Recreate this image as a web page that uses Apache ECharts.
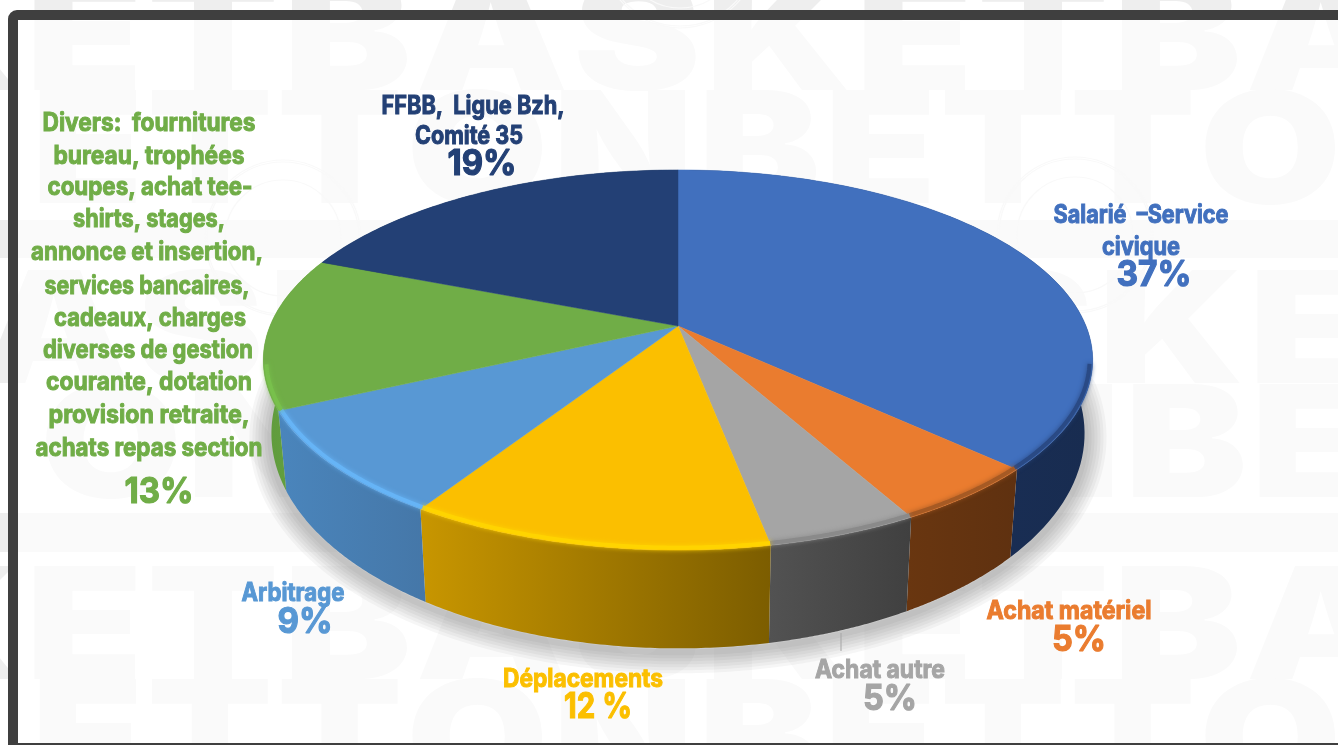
<!DOCTYPE html>
<html><head><meta charset="utf-8">
<style>html,body{margin:0;padding:0;background:#fff}#c{width:1338px;height:745px}</style>
<script src="https://cdn.jsdelivr.net/npm/echarts@6/dist/echarts.min.js"></script>
</head><body><div id="c"></div>
<script>
// ---- data ----
const categories = ['Salarié –Service civique','Achat matériel','Achat autre','Déplacements','Arbitrage','Divers','FFBB, Ligue Bzh, Comité 35'];
const values = [37,5,5,12,9,13,19];
const percentLabels = ['37%','5%','5%','12 %','9%','13%','19%'];
const nameLines = [
  ['Salarié  –Service','civique'],
  ['Achat matériel'],
  ['Achat autre'],
  ['Déplacements'],
  ['Arbitrage'],
  ['Divers:  fournitures','bureau, trophées','coupes, achat tee-','shirts, stages,','annonce et insertion,','services bancaires,','cadeaux, charges','diverses de gestion','courante, dotation','provision retraite,','achats repas section'],
  ['FFBB,  Ligue Bzh,','Comité 35']
];
// ---- styles ----
const topColors = ['#4170be','#ea7c2f','#a5a5a5','#fbbf00','#5898d4','#70ad47','#234075'];
const wallColors = [['#1c3260','#182c50'],['#693610','#5f3110'],['#525252','#404040'],['#c89600','#7c5d00'],['#4a85bc','#4577a8'],['#5f9a3c','#68a842'],['#182c50','#182c50']];
const rimColors = ['#2a4a85','#a65a24','#8a8a8a','#ffd400','#66b4f6','#78c04c','#234075'];
// ---- label layout (centre x, row y's and rendered widths) ----
const nameLayout = [
  {x:[1141,1141],y:[215,247],w:[175,78]},
  {x:[1069],y:[611],w:[165]},
  {x:[880],y:[670],w:[130]},
  {x:[583],y:[679],w:[160]},
  {x:[293],y:[593],w:[103]},
  {x:[149,149,150,149,147,147,150,148,149,149,149],y:[123,156,187,219,252,286,318,350,382,415,448],w:[213,191,205,152,232,205,192,210,206,201,227]},
  {x:[473,469],y:[106,136],w:[183,108]}
];
const pctLayout = [
  {x:1154,y:275,w:75},{x:1079,y:640,w:54},{x:890,y:699,w:54},{x:598,y:707,w:68},
  {x:305,y:622,w:55},{x:159,y:492,w:69},{x:482,y:164,w:69}
];
const NAME_FONT = '700 25px Inter';
const PCT_FONT = '700 36px Inter';
// perspective of the pie disc
const G = {cx:678, k:0.179, top:{y:326,b:184,a:408}, rim:{y:326,b:182,a:405}, bot:{y:395,b:208,a:400}, shade:{y:399,b:208,a:401}};
const proj = (theta, L) => {
  const u = Math.sin(theta), v = -Math.cos(theta), d = 1 - G.k*v;
  return [G.cx + L.a*u/d, L.y + L.b*v/d];
};
const total = values.reduce((s,v)=>s+v,0);
const starts = []; values.reduce((s,v,i)=>{starts[i]=s;return s+v;},0);
const arc = (i, L, rev, minV) => {
  const n = 80, out = [];
  const t0 = starts[i]/total*2*Math.PI, t1 = (starts[i]+values[i])/total*2*Math.PI;
  for(let j=0;j<=n;j++){
    const t = t0+(t1-t0)*j/n;
    if(minV===undefined || -Math.cos(t)>minV) out.push(proj(t,L));
  }
  return rev ? out.reverse() : out;
};
const sliceData = values.map((v,i)=>[i,v]);
const grad = c => new echarts.graphic.LinearGradient(0,0,1,0,[{offset:0,color:c[0]},{offset:1,color:c[1]}]);

const chart = echarts.init(document.getElementById('c'),null,{renderer:'canvas'});
// ---- background watermark ----
const mctx = document.createElement('canvas').getContext('2d');
const measure = (t,f)=>{mctx.font=f;return mctx.measureText(t).width;};
const WM_FONT = '900 155px Inter';
const WM = '#eeeeee';
const wmRows = [
  {text:'KETBASKETBASKETB',anchor:3,ax:283,y:43,period:830,word:'BASKET'},
  {text:'ETTONBETTONBETTON',anchor:1,ax:147,y:156,period:793,word:'BETTON'},
  {text:'BASKETBASKETBASKET',anchor:9,ax:1098,y:336,period:830,word:'BASKET'},
  {text:'ONBETTONBETTON',anchor:0,ax:40,y:450,period:793,word:'BETTON'},
  {text:'KETBASKETBASKETB',anchor:3,ax:283,y:632,period:830,word:'BASKET'},
  {text:'ETTONBETTONBETTON',anchor:1,ax:147,y:745,period:793,word:'BETTON'}
];
const bg = [];
wmRows.forEach(r=>{
  const sum = r.word.split('').reduce((s,c)=>s+measure(c,WM_FONT),0);
  const scale = r.period/sum;
  const adv = c => measure(c,WM_FONT)*scale;
  let x = r.ax;
  for(let i=0;i<r.anchor;i++) x -= adv(r.text[i]);
  r.text.split('').forEach(c=>{
    bg.push({type:'text',x:x,y:r.y,scaleX:scale*0.97,z:0,silent:true,
      style:{text:c,font:WM_FONT,fill:WM,align:'left',verticalAlign:'middle'}});
    x += adv(c);
  });
});
[[220,258],[513,552]].forEach(b=>bg.push({type:'rect',z:0,silent:true,shape:{x:0,y:b[0],width:1338,height:b[1]-b[0]},style:{fill:WM}}));
// inner veil and frame
bg.push({type:'rect',z:1,silent:true,shape:{x:13,y:15,width:1400,height:733},style:{fill:'rgba(255,255,255,0.68)'}});
[[283,238],[1075,235],[680,-50]].forEach(c=>{
  [78,76,58].forEach(r=>bg.push({type:'circle',z:1,silent:true,shape:{cx:c[0],cy:c[1],r:r},style:{fill:'none',stroke:'#f9f9f9',lineWidth:1.2}}));
});
bg.push({type:'rect',z:1,silent:true,shape:{x:13,y:15,width:1400,height:733,r:4},style:{fill:'none',stroke:'#3f3f3f',lineWidth:10}});
// ---- text labels ----
const textEl = (t,font,fill,x,y,w,lw)=>({type:'text',x:x,y:y,scaleX:w/measure(t,font),z:10,silent:true,
  style:{text:t,font:font,fill:fill,stroke:fill,lineWidth:lw,align:'center',verticalAlign:'middle'}});
const labels = [];
categories.forEach((c,i)=>{
  nameLines[i].forEach((t,j)=>labels.push(textEl(t,NAME_FONT,topColors[i],nameLayout[i].x[j],nameLayout[i].y[j],nameLayout[i].w[j],1)));
  labels.push(textEl(percentLabels[i],PCT_FONT,topColors[i],pctLayout[i].x,pctLayout[i].y,pctLayout[i].w,1.2));
});
labels.push({type:'line',z:10,silent:true,shape:{x1:841,y1:633,x2:841,y2:651},style:{stroke:'#a5a5a5',lineWidth:1}});

const custom = (z,fn,data)=>({type:'custom',coordinateSystem:'none',z:z,silent:true,animation:false,data:data||sliceData,renderItem:fn,encode:{}});
// soft shadow: one widening, faint stroke along the whole front edge of the lower rim
const shadeWidths = [6,12,18,24,30,36,42];
chart.setOption({
  animation:false,
  backgroundColor:'#ffffff',
  graphic:{elements:bg.concat(labels)},
  series:[
    custom(3,()=>{
      let pts=[]; values.forEach((v,i)=>{pts=pts.concat(arc(i,G.shade,false,-0.05));});
      return {type:'group',children:shadeWidths.map(w=>({type:'polyline',shape:{points:pts},
        style:{fill:'none',stroke:'rgba(0,0,0,0.035)',lineWidth:w,lineCap:'round',lineJoin:'round'}}))};
    },[[0]]),
    custom(4,(p)=>{ // side walls
      const i=p.dataIndex;
      return {type:'polygon',shape:{points:arc(i,G.top).concat(arc(i,G.bot,true))},
        style:{fill:grad(wallColors[i])}};
    }),
    custom(5,(p)=>{ // top faces
      const i=p.dataIndex;
      return {type:'polygon',shape:{points:[[G.cx,G.top.y]].concat(arc(i,G.top))},
        style:{fill:topColors[i],stroke:topColors[i],lineWidth:0.5}};
    }),
    custom(6,(p)=>{ // bevel along the visible front rim
      const i=p.dataIndex;
      return {type:'polyline',shape:{points:arc(i,G.rim,false,0.2)},
        style:{fill:'none',stroke:rimColors[i],lineWidth:4,shadowBlur:5,shadowColor:rimColors[i]}};
    })
  ]
});
</script></body></html>
